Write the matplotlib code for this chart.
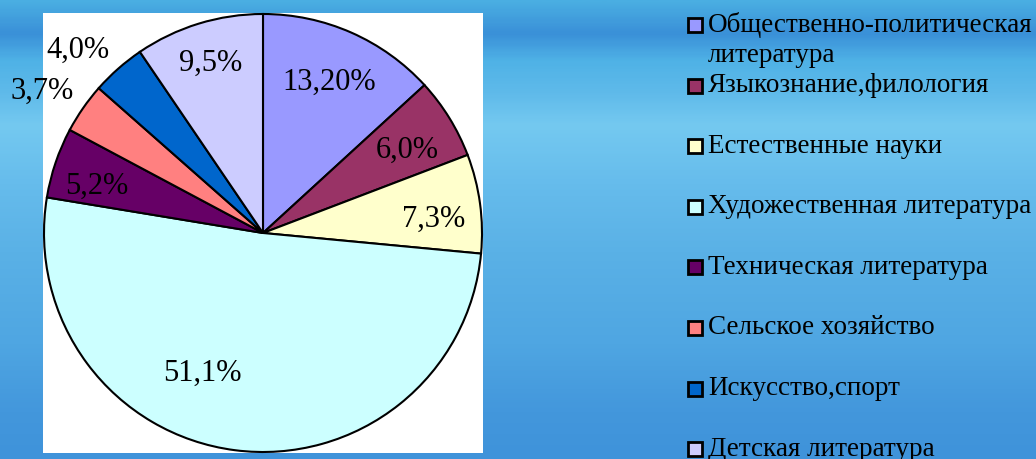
"""Pie chart of library stock by subject, on a blue slide background"""
import numpy as np
import matplotlib.pyplot as plt
from matplotlib.colors import LinearSegmentedColormap
from matplotlib.patches import Rectangle

# Data
categories = [
    "Общественно-политическая\nлитература",
    "Языкознание,филология",
    "Естественные науки",
    "Художественная литература",
    "Техническая литература",
    "Сельское хозяйство",
    "Искусство,спорт",
    "Детская литература",
]
shares = [13.2, 6.0, 7.3, 51.1, 5.2, 3.7, 4.0, 9.5]
pct_labels = ["13,20%", "6,0%", "7,3%", "51,1%", "5,2%", "3,7%", "4,0%", "9,5%"]
colors = ["#9999FF", "#993366", "#FFFFCC", "#CCFFFF",
          "#660066", "#FF8080", "#0066CC", "#CCCCFF"]

# label placement: radius (fraction of pie radius) and angle shift in degrees
label_dist = [0.75, 0.76, 0.78, 0.70, 0.79, 1.20, 1.19, 0.81]
label_shift = [0, -2, -3, -16, 3, 2, 4, 0]

W, H = 1036, 459
fig = plt.figure(figsize=(W / 100, H / 100), dpi=100)

# background gradient
bg = fig.add_axes([0, 0, 1, 1], zorder=-2)
bg.set_axis_off()
stops = [(0.0, "#4aaee2"), (0.07, "#3a90d8"), (0.13, "#4fb2e6"),
         (0.2, "#5fbaea"), (0.27, "#74c9f0"), (0.4, "#66bcec"),
         (0.55, "#5ab1e6"), (0.75, "#4fa6e2"), (0.9, "#4397dc"),
         (1.0, "#3f93da")]
cmap = LinearSegmentedColormap.from_list("bg", stops)
grad = np.linspace(0, 1, 300).reshape(-1, 1)
bg.imshow(grad, cmap=cmap, aspect="auto", extent=[0, 1, 1, 0])
bg.set_xlim(0, 1)
bg.set_ylim(1, 0)

# white panel behind the pie
bg.add_patch(Rectangle((43 / W, 13 / H), 440 / W, 440 / H,
                       facecolor="white", edgecolor="none", zorder=2))

# pie
cx, cy, R = 263, 233, 219
ax = fig.add_axes([(cx - R) / W, (H - cy - R) / H, 2 * R / W, 2 * R / H],
                  zorder=1)
ax.patch.set_alpha(0)
wedges, _ = ax.pie(shares, colors=colors, startangle=90, counterclock=False,
                   radius=1.0,
                   wedgeprops=dict(edgecolor="black", linewidth=1.5))
ax.set_xlim(-1, 1)
ax.set_ylim(-1, 1)
ax.set_aspect("auto")
ax.set_axis_off()

for w, lab, d, s in zip(wedges, pct_labels, label_dist, label_shift):
    ang = np.deg2rad((w.theta1 + w.theta2) / 2 + s)
    ax.text(d * np.cos(ang), d * np.sin(ang), lab, ha="center", va="center",
            fontsize=22, family="Liberation Serif", color="black")

# legend drawn by hand
x_box, x_txt = 688, 708
y0, step, line_gap = 25, 60.6, 31
for i, (lab, c) in enumerate(zip(categories, colors)):
    y = y0 + i * step
    fig.patches.append(Rectangle((x_box / W, 1 - (y + 7) / H), 14 / W, 14 / H,
                                 transform=fig.transFigure, facecolor=c,
                                 edgecolor="black", linewidth=2, zorder=3))
    for j, line in enumerate(lab.split("\n")):
        fig.text(x_txt / W, 1 - (y + j * line_gap) / H, line, ha="left",
                 va="center", fontsize=19.5, family="Liberation Serif",
                 color="black")

fig.savefig("out.png", dpi=100)
